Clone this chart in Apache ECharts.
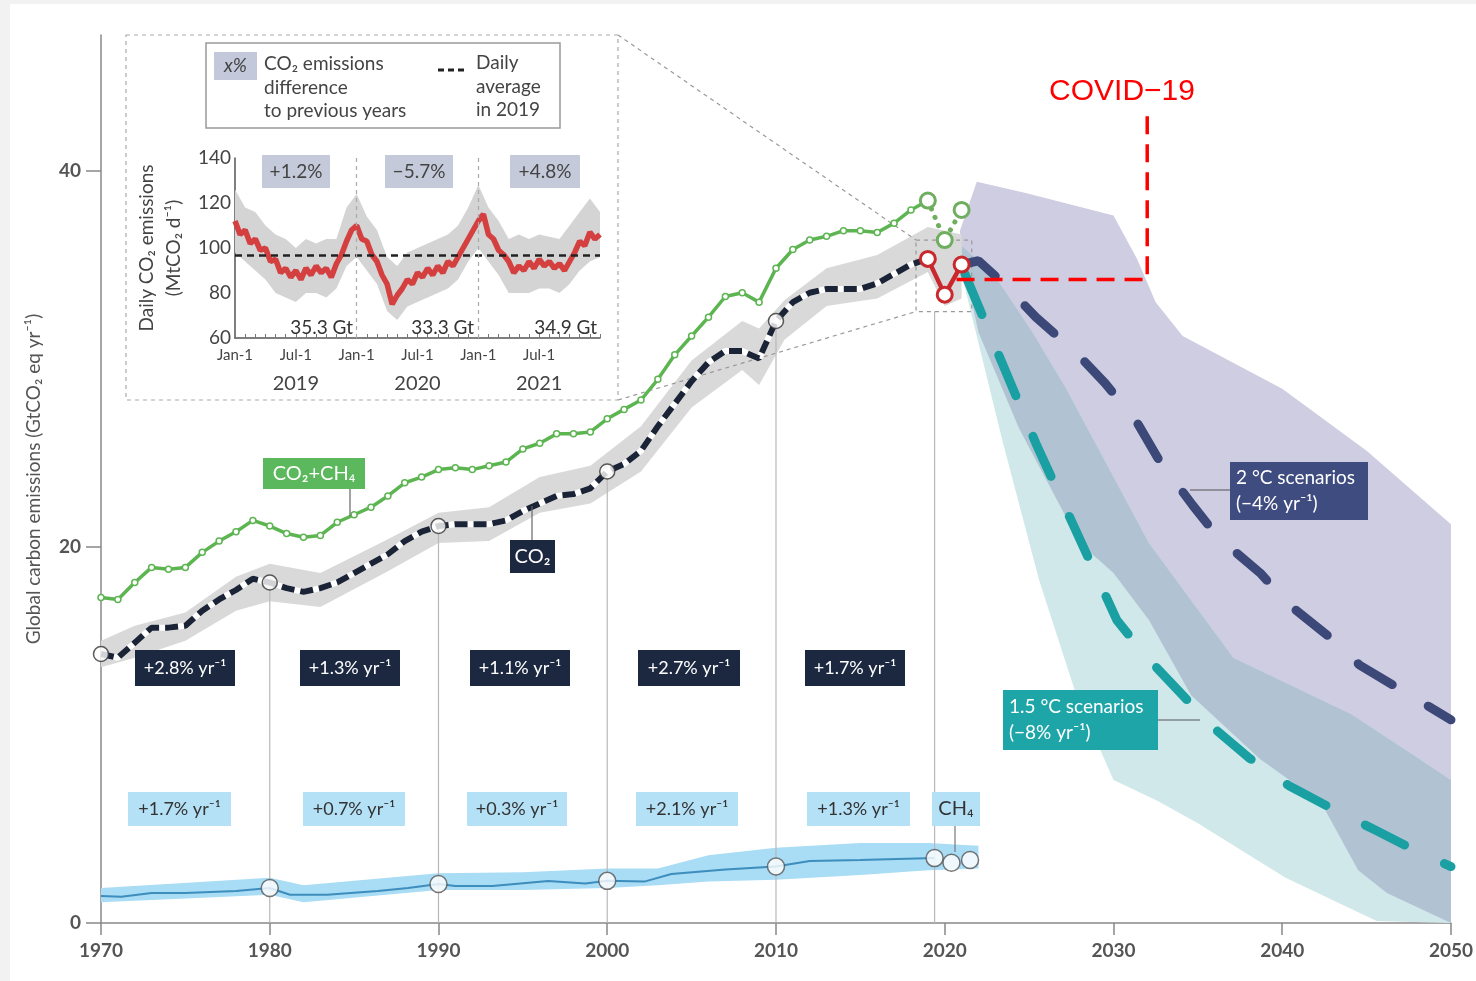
<!DOCTYPE html>
<html>
<head>
<meta charset="utf-8">
<script src="https://cdn.jsdelivr.net/npm/echarts@6.0.0/dist/echarts.min.js"></script>
<style>
html, body { margin: 0; padding: 0; background: #f2f2f2; }
#main { position: absolute; left: 10px; top: 4px; width: 1466px; height: 977px; background: #fff; }
</style>
</head>
<body>
<div id="main"></div>
<script>
// ---- data ----
var years = [1970, 1971, 1972, 1973, 1974, 1975, 1976, 1977, 1978, 1979,
	1980, 1981, 1982, 1983, 1984, 1985, 1986, 1987, 1988, 1989,
	1990, 1991, 1992, 1993, 1994, 1995, 1996, 1997, 1998, 1999,
	2000, 2001, 2002, 2003, 2004, 2005, 2006, 2007, 2008, 2009,
	2010, 2011, 2012, 2013, 2014, 2015, 2016, 2017, 2018, 2019];
// CO2 (GtCO2 yr-1)
var co2 = [14.3, 14.1, 14.9, 15.7, 15.7, 15.8, 16.6, 17.2, 17.7, 18.3,
	18.1, 17.8, 17.6, 17.8, 18.1, 18.6, 19.1, 19.6, 20.3, 20.8,
	21.1, 21.2, 21.2, 21.2, 21.4, 21.9, 22.3, 22.7, 22.8, 23.1,
	24.0, 24.4, 25.1, 26.4, 27.6, 28.8, 29.8, 30.4, 30.4, 30.0,
	32.0, 33.0, 33.5, 33.7, 33.7, 33.7, 34.0, 34.5, 35.0, 35.3];
// CO2 + CH4
var ghg = [17.3, 17.2, 18.1, 18.9, 18.8, 18.9, 19.7, 20.3, 20.8, 21.4,
	21.1, 20.7, 20.5, 20.6, 21.3, 21.7, 22.1, 22.7, 23.4, 23.7,
	24.1, 24.2, 24.1, 24.3, 24.5, 25.2, 25.5, 26.0, 26.0, 26.1,
	26.8, 27.3, 27.8, 28.9, 30.2, 31.2, 32.2, 33.3, 33.5, 33.0,
	34.8, 35.8, 36.3, 36.5, 36.8, 36.8, 36.7, 37.2, 37.9, 38.4];
var covidYears = [2019, 2020, 2021];
var co2Covid = [35.3, 33.4, 35.0];
var ghgCovid = [38.4, 36.3, 37.9];

var co2BandYears = [1970, 1972, 1975, 1978, 1980, 1983, 1987, 1990, 1993, 1996, 1999, 2002, 2005, 2008, 2009, 2010.5, 2013, 2016, 2019, 2020, 2021];
var co2Hi = [15.0, 15.8, 16.5, 18.4, 19.1, 18.6, 20.4, 21.8, 22.1, 23.7, 24.3, 26.4, 29.9, 32.0, 31.6, 33.1, 34.8, 35.5, 37.0, 36.8, 36.6];
var co2Lo = [13.6, 14.1, 15.0, 16.6, 17.1, 16.8, 18.7, 20.2, 20.3, 21.8, 22.3, 24.0, 27.4, 29.4, 28.6, 31.0, 32.8, 33.2, 34.6, 32.8, 33.2];

// CH4 (GtCO2 eq yr-1)
var ch4Years = [1970, 1971.2, 1973, 1975, 1978, 1980, 1981.2, 1983.4, 1986.4, 1988.2, 1990, 1991, 1993.2, 1996.5, 1998.7, 2000, 2002.2, 2003.8, 2007, 2010, 2012, 2015, 2019.4];
var ch4 = [1.44, 1.4, 1.6, 1.6, 1.7, 1.86, 1.5, 1.5, 1.7, 1.86, 2.07, 1.97, 1.97, 2.23, 2.1, 2.24, 2.2, 2.6, 2.85, 3.0, 3.3, 3.35, 3.45];
var ch4CircleYears = [1980, 1990, 2000, 2010, 2019.4, 2020.4, 2021.5];
var ch4Circles = [1.86, 2.07, 2.24, 3.0, 3.45, 3.2, 3.35];
var ch4BandYears = [1970, 1980, 1982, 1990, 1995, 2000, 2003, 2006, 2010, 2015, 2019, 2022];
var ch4Hi = [1.86, 2.4, 2.0, 2.65, 2.7, 2.9, 2.9, 3.6, 4.0, 4.25, 4.25, 4.1];
var ch4Lo = [1.1, 1.5, 1.1, 1.75, 1.75, 1.86, 2.0, 2.2, 2.3, 2.55, 2.8, 2.9];

var decadeYears = [1970, 1980, 1990, 2000, 2010];

// scenario ranges and medians
var scen2Hi = [[2020.9, 36.8], [2021.9, 39.4], [2024.8, 38.8], [2030.0, 37.6], [2031.4, 35.3], [2032.5, 33.0], [2034.1, 31.2], [2040.0, 28.4], [2045.0, 25.1], [2050, 21.2]];
var scen2Lo = [[2021.0, 35.5], [2022.0, 31.4], [2024.4, 26.3], [2028.0, 20.2], [2030.0, 18.6], [2032.1, 16.1], [2034.6, 12.1], [2038.7, 8.7], [2042.3, 6.4], [2044.5, 2.8], [2046.2, 1.6], [2050, 0]];
var scen15Hi = [[2021.0, 36.0], [2022.9, 34.5], [2025.2, 31.4], [2027.2, 28.4], [2032.1, 20.2], [2037.1, 14.1], [2044.1, 11.1], [2048.0, 8.8], [2050, 7.6]];
var scen15Lo = [[2021.0, 34.5], [2023.4, 25.7], [2025.6, 18.2], [2027.8, 12.1], [2030.0, 7.6], [2032.6, 6.5], [2035.0, 5.3], [2040.2, 2.4], [2045.6, 0.1], [2050, 0]];
var med2 = [[2021.0, 35.0], [2022.0, 35.2], [2023.6, 33.9], [2025.4, 32.2], [2027.8, 30.3], [2029.5, 28.7], [2031.4, 26.6], [2032.7, 24.6], [2034.7, 22.2], [2036.2, 20.5], [2038.7, 18.6], [2040.3, 17.0], [2042.8, 15.2], [2044.6, 13.7], [2047.4, 12.2], [2050, 10.8]];
var med15 = [[2021.2, 34.5], [2023.2, 30.2], [2025.4, 25.5], [2027.8, 20.8], [2030.2, 16.1], [2032.0, 14.1], [2033.9, 12.3], [2035.9, 10.4], [2038.0, 8.8], [2040.4, 7.3], [2042.7, 6.2], [2045.6, 4.9], [2047.8, 3.9], [2050, 3.0]];

var covidBracket = [[2020.7, 34.2], [2032.0, 34.2], [2032.0, 43.0]];
var zoomBox = [2018.3, 2021.6, 32.5, 36.3];

var co2Rates = ['+2.8% yr⁻¹', '+1.3% yr⁻¹', '+1.1% yr⁻¹', '+2.7% yr⁻¹', '+1.7% yr⁻¹'];
var ch4Rates = ['+1.7% yr⁻¹', '+0.7% yr⁻¹', '+0.3% yr⁻¹', '+2.1% yr⁻¹', '+1.3% yr⁻¹'];

// inset: daily CO2 emissions, half-month steps from Jan-1 2019 (MtCO2 d-1)
var insetRed = [112, 106, 108, 102, 104, 99, 100, 94, 95, 89, 91, 87,
	90, 86, 91, 88, 92, 89, 91, 87, 93, 97, 103, 108,
	110, 104, 103, 97, 94, 88, 84, 75, 79, 82, 86, 84,
	89, 87, 91, 88, 92, 89, 94, 92, 96, 100, 104, 108,
	112, 115, 106, 104, 99, 97, 94, 89, 92, 90, 94, 91,
	95, 92, 94, 91, 93, 90, 94, 98, 103, 101, 107, 104, 106];
// grey band, monthly steps
var insetHi = [126, 118, 116, 110, 106, 104, 100, 104, 102, 104, 104, 118, 124, 114, 108, 96, 92, 98, 100, 102, 104, 106, 110, 118, 128, 118, 112, 104, 106, 104, 106, 105, 104, 110, 116, 122, 116];
var insetLo = [98, 94, 90, 86, 80, 78, 76, 80, 80, 78, 82, 92, 96, 90, 84, 72, 68, 74, 76, 78, 80, 82, 86, 94, 100, 94, 88, 80, 80, 80, 82, 82, 80, 84, 90, 94, 96];
var dailyAvg2019 = 96.7;
var insetPct = ['+1.2%', '−5.7%', '+4.8%'];
var insetTotals = ['35.3 Gt', '33.3 Gt', '34.9 Gt'];
var insetYears = ['2019', '2020', '2021'];

// ---- helpers ----
function zip(xs, ys) {
	return xs.map(function (x, i) { return [x, ys[i]]; });
}
function pick(list, xs) {
	return xs.map(function (x) { return list[years.indexOf(x)]; });
}
function bandSeries(upper, lower, color, idx, z) {
	return {
		type : 'custom', silent : true, xAxisIndex : idx, yAxisIndex : idx, z : z,
		data : [upper[0]],
		renderItem : function (params, api) {
			var pts = upper.map(function (p) { return api.coord(p); });
			var low = lower.map(function (p) { return api.coord(p); }).reverse();
			return { type : 'polygon', shape : { points : pts.concat(low) }, style : { fill : color } };
		}
	};
}

var tickFont = 'Lato, "Open Sans", sans-serif';
var OX = 10, OY = 4; // chart div offset inside the page

// inset frame corners in page pixels
var insetFrame = { x1 : 126, y1 : 35, x2 : 618, y2 : 400 };

function px(x) { return x - OX; }
function py(y) { return y - OY; }

function box(x1, y1, x2, y2, fill, text, color, font, align) {
	return {
		type : 'group',
		children : [ {
			type : 'rect', z : 100, shape : { x : px(x1), y : py(y1), width : x2 - x1, height : y2 - y1 },
			style : { fill : fill }
		}, {
			type : 'text', z : 101,
			style : {
				text : text, x : align === 'left' ? px(x1) + 6 : px((x1 + x2) / 2), y : py((y1 + y2) / 2),
				align : align || 'center', verticalAlign : 'middle', fill : color, font : font, lineHeight : 26
			}
		} ]
	};
}
function seg(x1, y1, x2, y2, color, width, dash) {
	return {
		type : 'line', z : 99,
		shape : { x1 : px(x1), y1 : py(y1), x2 : px(x2), y2 : py(y2) },
		style : { stroke : color, lineWidth : width || 1.2, lineDash : dash || null }
	};
}
function label(x, y, text, font, color, align) {
	return {
		type : 'text', z : 100,
		style : { text : text, x : px(x), y : py(y), font : font, fill : color || '#444', align : align || 'left', verticalAlign : 'middle' }
	};
}

var graphics = [];
// inset dashed frame + legend
graphics.push({
	type : 'rect', z : 98,
	shape : { x : px(insetFrame.x1), y : py(insetFrame.y1), width : insetFrame.x2 - insetFrame.x1, height : insetFrame.y2 - insetFrame.y1 },
	style : { fill : 'none', stroke : '#aaa', lineWidth : 1.2, lineDash : [4, 4] }
});
graphics.push({
	type : 'rect', z : 99, shape : { x : px(206), y : py(43), width : 354, height : 85 },
	style : { fill : '#fff', stroke : '#999', lineWidth : 1.5 }
});
graphics.push(box(214, 52, 257, 80, '#c3c9da', 'x%', '#444', 'italic 19px ' + tickFont));
graphics.push(label(264, 64, 'CO₂ emissions', '19px ' + tickFont, '#444'));
graphics.push(label(264, 88, 'difference', '19px ' + tickFont, '#444'));
graphics.push(label(264, 111, 'to previous years', '19px ' + tickFont, '#444'));
graphics.push(seg(438, 70, 467, 70, '#222', 3, [6, 4]));
graphics.push(label(476, 63, 'Daily', '19px ' + tickFont, '#444'));
graphics.push(label(476, 87, 'average', '19px ' + tickFont, '#444'));
graphics.push(label(476, 110, 'in 2019', '19px ' + tickFont, '#444'));
// inset annotations
var pctBoxes = [[262, 330], [385, 453], [510, 580]];
var totalRight = [353, 474, 597];
insetPct.forEach(function (t, i) {
	graphics.push(box(pctBoxes[i][0], 155, pctBoxes[i][1], 188, '#c5cadb', t, '#444', '19px ' + tickFont));
	graphics.push(label(totalRight[i], 328, insetTotals[i], '19px ' + tickFont, '#333', 'right'));
});
// rate boxes
var co2BoxX = [[135, 235], [300, 400], [470, 570], [638, 740], [805, 905]];
var ch4BoxX = [[128, 231], [303, 405], [467, 567], [636, 738], [807, 910]];
co2Rates.forEach(function (t, i) {
	graphics.push(box(co2BoxX[i][0], 650, co2BoxX[i][1], 686, '#1b2840', t, '#fff', '18px ' + tickFont));
});
ch4Rates.forEach(function (t, i) {
	graphics.push(box(ch4BoxX[i][0], 792, ch4BoxX[i][1], 826, '#b5e1f7', t, '#333', '18px ' + tickFont));
});
graphics.push(box(932, 792, 980, 826, '#b5e1f7', 'CH₄', '#333', '20px ' + tickFont));
graphics.push(seg(955, 826, 955, 852, '#777', 1.2));
graphics.push(box(263, 458, 365, 489, '#5cb85c', 'CO₂+CH₄', '#fff', '20px ' + tickFont));
graphics.push(seg(350, 489, 350, 516, '#666', 1.2));
graphics.push(box(510, 540, 555, 573, '#1b2840', 'CO₂', '#fff', '20px ' + tickFont));
graphics.push(seg(532, 540, 532, 506, '#666', 1.2));
graphics.push(box(1230, 462, 1368, 520, '#3f4c80', '2 °C scenarios\n(−4% yr⁻¹)', '#fff', '19px ' + tickFont, 'left'));
graphics.push(seg(1190, 490, 1230, 490, '#555', 1.2));
graphics.push(box(1003, 690, 1158, 750, '#1ea5a8', '1.5 °C scenarios\n(−8% yr⁻¹)', '#fff', '19px ' + tickFont, 'left'));
graphics.push(seg(1158, 720, 1200, 720, '#555', 1.2));
graphics.push(label(1122, 92, 'COVID−19', '30px "Liberation Sans", Arial, sans-serif', '#ff0000', 'center'));

var guideData = zip(decadeYears.slice(1), pick(co2, decadeYears.slice(1))).concat([[2019.4, zoomBox[2]]]);

var chart = echarts.init(document.getElementById('main'));
var option = {
	animation : false,
	backgroundColor : '#fff',
	grid : [ {
		left : px(101), right : 1476 - 1452, top : py(35), bottom : 981 - 923
	}, {
		left : px(235), right : 1476 - 600, top : py(158), bottom : 981 - 338
	} ],
	xAxis : [ {
		type : 'value', gridIndex : 0, min : 1970, max : 2050, interval : 10,
		splitLine : { show : false },
		axisLine : { lineStyle : { color : '#888', width : 1.5 } },
		axisTick : { length : 12, lineStyle : { color : '#888', width : 1.5 } },
		axisLabel : { fontSize : 19, fontWeight : 'bold', color : '#555', fontFamily : tickFont, margin : 18,
			formatter : function (v) { return String(v); } }
	}, {
		type : 'value', gridIndex : 1, min : 0, max : 36,
		splitLine : { show : false },
		axisLine : { lineStyle : { color : '#555', width : 1.5 } },
		axisTick : { inside : true, length : 4, customValues : [0, 1, 2, 3, 4, 5, 6, 7, 8, 9, 10, 11, 12, 13, 14, 15, 16, 17, 18, 19, 20, 21, 22, 23, 24, 25, 26, 27, 28, 29, 30, 31, 32, 33, 34, 35, 36], lineStyle : { color : '#777' } },
		axisLabel : {
			customValues : [0, 6, 12, 18, 24, 30], margin : 10, color : '#444', fontFamily : tickFont, fontSize : 15,
			formatter : function (v) {
				if (v % 12 === 0) return 'Jan-1';
				return 'Jul-1\n{y|' + insetYears[Math.floor(v / 12)] + '}';
			},
			rich : { y : { fontSize : 20, fontFamily : tickFont, color : '#444', lineHeight : 34, padding : [8, 0, 0, 0] } }
		}
	} ],
	yAxis : [ {
		type : 'value', gridIndex : 0, min : 0, max : 47.2,
		splitLine : { show : false },
		axisLine : { show : true, lineStyle : { color : '#888', width : 1.5 } },
		axisTick : { show : true, length : 15, customValues : [0, 20, 40], lineStyle : { color : '#888', width : 1.5 } },
		axisLabel : { customValues : [0, 20, 40], fontSize : 19, fontWeight : 'bold', color : '#555', fontFamily : tickFont, margin : 20 },
		name : 'Global carbon emissions (GtCO₂ eq yr⁻¹)', nameLocation : 'middle', nameGap : 58, nameRotate : 90,
		nameTextStyle : { fontSize : 19, color : '#555', fontFamily : tickFont }
	}, {
		type : 'value', gridIndex : 1, min : 60, max : 140, interval : 20,
		splitLine : { show : false },
		axisLine : { show : true, lineStyle : { color : '#555', width : 1.5 } },
		axisTick : { show : false },
		axisLabel : { fontSize : 19, color : '#444', fontFamily : tickFont, margin : 4 },
		name : 'Daily CO₂ emissions\n(MtCO₂ d⁻¹)', nameLocation : 'middle', nameGap : 48, nameRotate : 90,
		nameTextStyle : { fontSize : 19, color : '#444', fontFamily : tickFont, lineHeight : 27 }
	} ],
	graphic : graphics,
	series : [
		// scenario ranges
		bandSeries(scen2Hi, scen2Lo, '#cfcde1', 0, 1),
		bandSeries(scen15Hi, scen15Lo, '#d0e8ea', 0, 1),
		bandSeries(scen15Hi, scen2Lo, '#b1c3d3', 0, 1),
		// uncertainty of historical series
		bandSeries(zip(co2BandYears, co2Hi), zip(co2BandYears, co2Lo), '#d9d9d9', 0, 2),
		bandSeries(zip(ch4BandYears, ch4Hi), zip(ch4BandYears, ch4Lo), '#a9dcf5', 0, 2),
		{
			type : 'custom', silent : true, z : 3, data : guideData,
			renderItem : function (params, api) {
				var top = api.coord([api.value(0), api.value(1)]);
				var bot = api.coord([api.value(0), 0]);
				return { type : 'line', shape : { x1 : top[0], y1 : top[1], x2 : bot[0], y2 : bot[1] }, style : { stroke : '#b8b8b8', lineWidth : 1.2 } };
			}
		}, {
			type : 'custom', silent : true, z : 3, data : [[zoomBox[0], zoomBox[3]]],
			renderItem : function (params, api) {
				var a = api.coord([zoomBox[0], zoomBox[3]]);
				var b = api.coord([zoomBox[1], zoomBox[2]]);
				var dash = { stroke : '#999', lineWidth : 1.2, lineDash : [4, 4], fill : 'none' };
				return { type : 'group', children : [
					{ type : 'rect', shape : { x : a[0], y : a[1], width : b[0] - a[0], height : b[1] - a[1] }, style : dash },
					{ type : 'line', shape : { x1 : px(insetFrame.x2), y1 : py(insetFrame.y1), x2 : a[0], y2 : a[1] }, style : dash },
					{ type : 'line', shape : { x1 : px(insetFrame.x2), y1 : py(insetFrame.y2), x2 : a[0], y2 : b[1] }, style : dash }
				] };
			}
		},
		// scenario medians
		{
			type : 'line', data : med2, symbol : 'none', z : 4, silent : true,
			lineStyle : { color : '#3b4878', width : 9, type : [40, 42], cap : 'round' }
		}, {
			type : 'line', data : med15, symbol : 'none', z : 4, silent : true,
			lineStyle : { color : '#1aa0a2', width : 9, type : [44, 44], cap : 'round' }
		},
		// CH4
		{
			type : 'line', data : zip(ch4Years, ch4), symbol : 'none', z : 4, silent : true,
			lineStyle : { color : '#3d8dbd', width : 2 }
		},
		// CO2 + CH4
		{
			type : 'line', data : zip(years, ghg), symbol : 'circle', symbolSize : 6, z : 5, silent : true,
			lineStyle : { color : '#5db552', width : 3.5 },
			itemStyle : { color : '#fff', borderColor : '#5db552', borderWidth : 1.5 }
		}, {
			type : 'line', data : zip(covidYears, ghgCovid), symbol : 'circle', symbolSize : 15, z : 5, silent : true,
			showAllSymbol : true,
			lineStyle : { color : '#6fae5f', width : 5, type : [0.1, 9], cap : 'round' },
			itemStyle : { color : '#fff', borderColor : '#6fae5f', borderWidth : 3 }
		},
		// CO2
		{
			type : 'line', data : zip(years, co2), symbol : 'none', z : 5, silent : true,
			lineStyle : { color : '#fff', width : 6 }
		}, {
			type : 'line', data : zip(years, co2), symbol : 'none', z : 5, silent : true,
			lineStyle : { color : '#1a2436', width : 6, type : [13, 6] }
		}, {
			type : 'line', data : zip(covidYears, co2Covid), symbol : 'circle', symbolSize : 15, z : 6, silent : true,
			lineStyle : { color : '#c9282c', width : 4.5 },
			itemStyle : { color : '#fff', borderColor : '#c9282c', borderWidth : 3 }
		}, {
			type : 'scatter', data : zip(decadeYears, pick(co2, decadeYears)), symbolSize : 15, z : 6, silent : true,
			itemStyle : { color : '#fff', borderColor : '#333', borderWidth : 1.5 }
		}, {
			type : 'scatter', data : zip(ch4CircleYears, ch4Circles), symbolSize : 17, z : 6, silent : true,
			itemStyle : { color : '#fff', borderColor : '#555', borderWidth : 1.5 }
		},
		// COVID-19 bracket
		{
			type : 'line', data : covidBracket, symbol : 'none', z : 7, silent : true,
			lineStyle : { color : '#ff0000', width : 3.5, type : [18, 10] }
		},
		// inset
		bandSeries(insetHi.map(function (v, i) { return [i, v]; }), insetLo.map(function (v, i) { return [i, v]; }), '#d4d4d4', 1, 2),
		{
			type : 'line', xAxisIndex : 1, yAxisIndex : 1, z : 4, silent : true, symbol : 'none',
			data : insetRed.map(function (v, i) { return [i * 0.5, v]; }),
			lineStyle : { color : '#d44040', width : 5.5, join : 'bevel' },
			markLine : {
				silent : true, symbol : 'none', label : { show : false },
				data : [
					{ yAxis : dailyAvg2019, lineStyle : { color : '#222', width : 2.5, type : [7, 5] } },
					{ xAxis : 12, lineStyle : { color : '#aaa', width : 1.2, type : [4, 4] } },
					{ xAxis : 24, lineStyle : { color : '#aaa', width : 1.2, type : [4, 4] } }
				]
			}
		}
	]
};
chart.setOption(option);
</script>
</body>
</html>
